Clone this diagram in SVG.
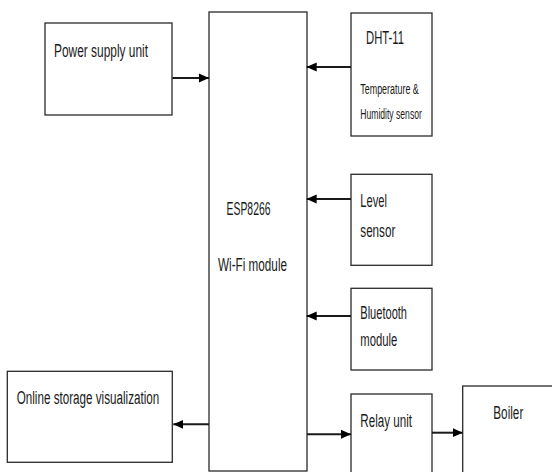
<svg xmlns="http://www.w3.org/2000/svg" width="552" height="472" viewBox="0 0 552 472">
<defs>
<style>
.box{fill:#fff;stroke:#2a2a2a;stroke-width:1.3}
.t{font-family:"Liberation Sans",Arial,sans-serif;font-size:18px;fill:#1a1a1a}
.s{font-family:"Liberation Sans",Arial,sans-serif;font-size:14px;fill:#1a1a1a}
.c{stroke:#1a1a1a;stroke-width:2;fill:none}
</style>
<marker id="ah" markerUnits="userSpaceOnUse" markerWidth="10" markerHeight="10" viewBox="0 0 10 10" refX="10" refY="5" orient="auto">
<path d="M0,0.5 L10,5 L0,9.5 Z" fill="#000"/>
</marker>
</defs>
<rect width="552" height="472" fill="#fff"/>
<g id="power">
<rect class="box" x="45" y="23" width="127" height="92"/>
<text class="t" x="54" y="56.5" textLength="94" lengthAdjust="spacingAndGlyphs">Power supply unit</text>
</g>
<g id="esp">
<rect class="box" x="209" y="12" width="98" height="459"/>
<text class="t" x="226.5" y="215" textLength="44" lengthAdjust="spacingAndGlyphs">ESP8266</text>
<text class="t" x="218" y="271" textLength="69" lengthAdjust="spacingAndGlyphs">Wi-Fi module</text>
</g>
<g id="dht">
<rect class="box" x="351" y="13" width="81" height="123"/>
<text class="t" x="366" y="44.3" textLength="38" lengthAdjust="spacingAndGlyphs">DHT-11</text>
<text class="s" x="360.3" y="94" textLength="58.5" lengthAdjust="spacingAndGlyphs">Temperature &amp;</text>
<text class="s" x="360.3" y="119.3" textLength="61.5" lengthAdjust="spacingAndGlyphs">Humidity sensor</text>
</g>
<g id="level">
<rect class="box" x="351" y="174.3" width="81" height="91"/>
<text class="t" x="360.3" y="207.3" textLength="26.7" lengthAdjust="spacingAndGlyphs">Level</text>
<text class="t" x="360.3" y="237" textLength="35" lengthAdjust="spacingAndGlyphs">sensor</text>
</g>
<g id="bluetooth">
<rect class="box" x="351" y="288.3" width="81" height="81.7"/>
<text class="t" x="360.3" y="318.5" textLength="46.7" lengthAdjust="spacingAndGlyphs">Bluetooth</text>
<text class="t" x="360.3" y="345.5" textLength="37" lengthAdjust="spacingAndGlyphs">module</text>
</g>
<g id="relay">
<rect class="box" x="351" y="394" width="81" height="100"/>
<text class="t" x="360.3" y="426.7" textLength="51.7" lengthAdjust="spacingAndGlyphs">Relay unit</text>
</g>
<g id="boiler">
<rect class="box" x="462.7" y="386" width="120" height="110"/>
<text class="t" x="493.3" y="418.7" textLength="30" lengthAdjust="spacingAndGlyphs">Boiler</text>
</g>
<g id="online">
<rect class="box" x="7.3" y="371.3" width="165" height="91"/>
<text class="t" x="16.7" y="404.3" textLength="142.6" lengthAdjust="spacingAndGlyphs">Online storage visualization</text>
</g>
<g id="connectors">
<line class="c" x1="172.3" y1="78" x2="209" y2="78" marker-end="url(#ah)"/>
<line class="c" x1="351" y1="67" x2="306.7" y2="67" marker-end="url(#ah)"/>
<line class="c" x1="351" y1="199" x2="306.7" y2="199" marker-end="url(#ah)"/>
<line class="c" x1="351" y1="316" x2="306.7" y2="316" marker-end="url(#ah)"/>
<line class="c" x1="307" y1="434.3" x2="351" y2="434.3" marker-end="url(#ah)"/>
<line class="c" x1="432" y1="432.7" x2="462.7" y2="432.7" marker-end="url(#ah)"/>
<line class="c" x1="209" y1="424.3" x2="173.3" y2="424.3" marker-end="url(#ah)"/>
</g>
</svg>
